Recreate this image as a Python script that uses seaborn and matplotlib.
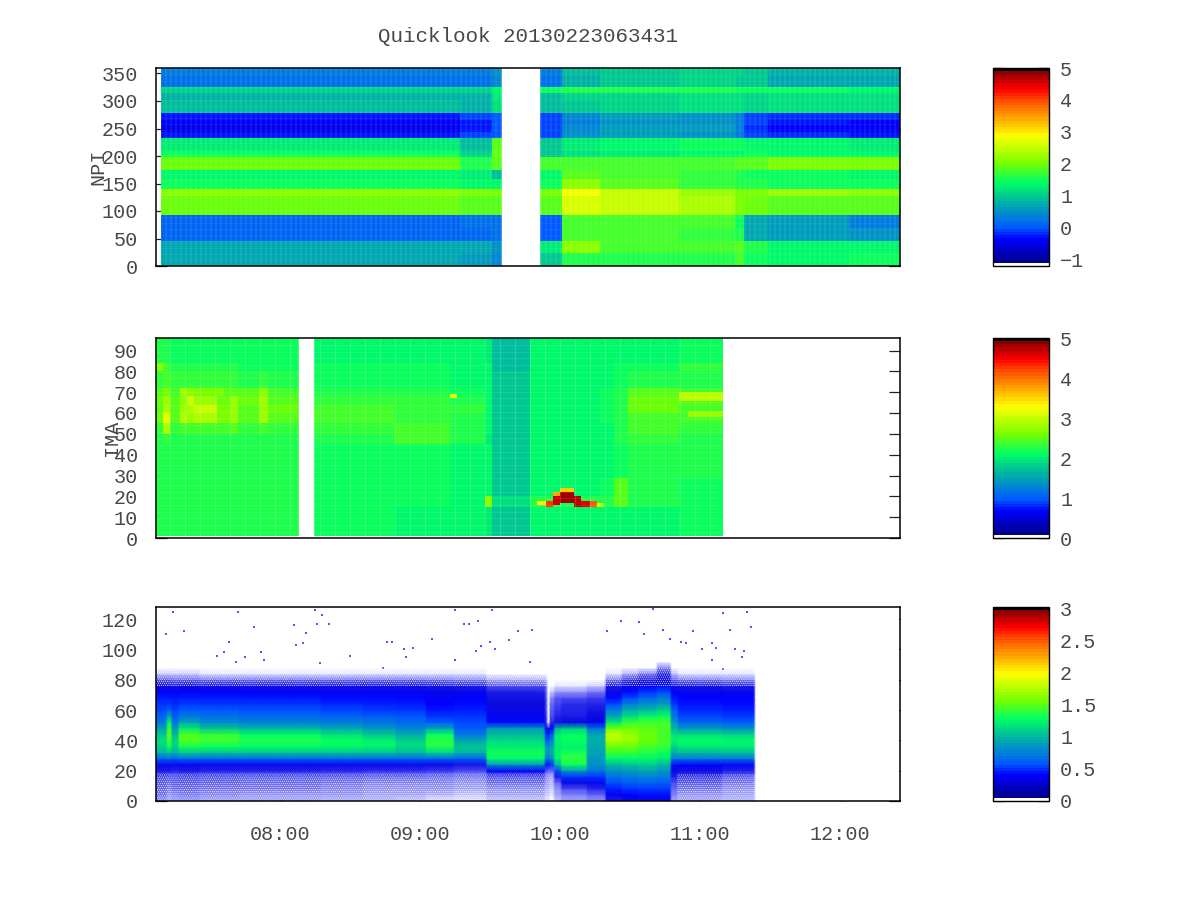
import numpy as np
import pandas as pd
import matplotlib
matplotlib.use("Agg")
import matplotlib.pyplot as plt
from matplotlib.cm import ScalarMappable
from matplotlib.colors import LinearSegmentedColormap, Normalize
from matplotlib.patches import Rectangle
import seaborn as sns

nan = float("nan")

# time axis is minutes of the day
minute_grid = np.arange(427, 746)
hour_ticks = [480, 540, 600, 660, 720]
hour_labels = ["08:00", "09:00", "10:00", "11:00", "12:00"]

# NPI: one column per stretch of time, one value per band (bottom to top)
npi_bands = [0, 23, 46, 69, 92, 128, 139, 157, 174, 197, 209, 231, 243, 255, 266, 278, 302, 314, 325, 348]
npi_starts = [429, 557, 571, 575, 591, 601, 617, 651, 675, 679, 689, 724]
npi_s1 = [0.65, 0.7, 0.1, 0.15, 1.95, 2.15, 1.45, 1.4, 1.95, 1.5, 1.3, -0.3, -0.45, -0.4, -0.25, 0.85, 0.8, 1.1, 0.2, 0.35]
npi_s2 = [0.6, 0.65, 0.15, 0.2, 1.85, 2.05, 1.4, 1.3, 1.6, 1.05, 0.85, -0.1, -0.3, -0.3, -0.1, 0.75, 0.75, 1.05, 0.2, 0.3]
npi_s3 = [0.4, 0.45, 0.2, 0.2, 1.9, 2.0, 1.4, 0.85, 1.9, 1.95, 1.85, 0.0, 0.05, 0.05, 0.0, 1.2, 1.3, 1.35, 0.4, 0.45]
npi_gap = [nan] * 20
npi_s4 = [0.95, 1.25, 0.05, 0.05, 1.85, 2.05, 1.45, 1.35, 1.75, 0.95, 1.0, -0.1, -0.05, -0.05, -0.1, 0.85, 0.9, 1.45, 0.25, 0.3]
npi_s5 = [1.55, 2.1, 1.75, 1.8, 2.65, 2.8, 2.1, 1.9, 1.8, 1.2, 1.3, 0.45, 0.4, 0.35, 0.4, 1.0, 1.05, 1.6, 0.75, 0.85]
npi_s6 = [1.55, 1.75, 1.75, 1.75, 2.5, 2.55, 1.9, 1.75, 1.75, 1.3, 1.4, 0.55, 0.55, 0.5, 0.55, 1.05, 1.1, 1.6, 0.95, 1.0]
npi_s7 = [1.6, 1.75, 1.7, 1.8, 2.3, 2.2, 1.7, 1.65, 1.8, 1.35, 1.45, 0.5, 0.55, 0.5, 0.5, 1.15, 1.15, 1.6, 1.05, 1.05]
npi_s8 = [1.75, 1.9, 1.55, 1.5, 2.05, 2.0, 1.55, 1.55, 1.85, 1.35, 1.45, 0.3, 0.3, 0.3, 0.3, 1.15, 1.2, 1.5, 1.0, 1.05]
npi_s9 = [1.5, 1.55, 0.65, 0.7, 1.95, 2.0, 1.55, 1.45, 1.9, 1.45, 1.35, -0.1, -0.15, -0.1, -0.05, 1.05, 1.1, 1.5, 0.95, 0.95]
npi_s10 = [1.4, 1.4, 0.6, 0.55, 1.9, 2.2, 1.5, 1.45, 2.0, 1.4, 1.4, -0.2, -0.35, -0.3, -0.15, 1.2, 1.2, 1.45, 0.7, 0.8]
npi_s11 = [1.45, 1.4, 0.5, 0.35, 1.9, 2.15, 1.5, 1.4, 2.0, 1.35, 1.3, -0.3, -0.35, -0.35, -0.2, 1.2, 1.15, 1.4, 0.65, 0.75]

# IMA: bands 1..96, columns
ima_bands = [1, 15, 20, 29, 45, 50, 55, 60, 64, 68, 72, 80, 84]
ima_starts = [427, 430, 433, 437, 440, 443, 453, 456, 459, 462, 471, 475, 488, 494, 529, 553, 568, 571, 587, 617, 623, 629, 651, 670]
ima_r1 = [2.2, 2.2, 2.2, 2.2, 2.2, 2.2, 2.2, 2.2, 2.2, 2.2, 2.2, 2.2, nan, 2.15, 2.1, 2.05, 2.0, 1.75, 2.05, 2.1, 2.1, 2.1, 2.15, nan]
ima_r2 = [2.2, 2.2, 2.2, 2.2, 2.2, 2.2, 2.2, 2.2, 2.2, 2.2, 2.2, 2.2, nan, 2.15, 2.15, 2.1, 2.7, 1.95, 2.2, 2.2, 2.5, 2.2, 2.15, nan]
ima_r3 = [2.2, 2.2, 2.2, 2.2, 2.2, 2.2, 2.2, 2.2, 2.2, 2.2, 2.2, 2.2, nan, 2.15, 2.15, 2.1, 2.1, 1.8, 2.1, 2.15, 2.5, 2.2, 2.15, nan]
ima_r4 = [2.2, 2.2, 2.2, 2.2, 2.2, 2.2, 2.2, 2.2, 2.2, 2.2, 2.2, 2.2, nan, 2.15, 2.15, 2.1, 2.05, 1.75, 2.05, 2.1, 2.15, 2.2, 2.2, nan]
ima_r5 = [2.25, 2.3, 2.25, 2.25, 2.25, 2.25, 2.25, 2.25, 2.25, 2.2, 2.25, 2.2, nan, 2.25, 2.38, 2.2, 2.0, 1.75, 2.05, 2.1, 2.2, 2.35, 2.25, nan]
ima_r6 = [2.35, 2.85, 2.3, 2.4, 2.4, 2.4, 2.4, 2.4, 2.45, 2.35, 2.4, 2.35, nan, 2.3, 2.36, 2.25, 2.05, 1.75, 2.05, 2.1, 2.2, 2.38, 2.35, nan]
ima_r7 = [2.55, 3.2, 2.45, 2.9, 2.8, 2.85, 2.6, 2.65, 2.8, 2.5, 2.8, 2.5, nan, 2.4, 2.33, 2.25, 2.1, 1.8, 2.1, 2.15, 2.2, 2.42, 2.4, nan]
ima_r8 = [2.5, 2.85, 2.45, 2.75, 2.85, 3.0, 2.6, 2.6, 2.8, 2.5, 2.8, 2.55, nan, 2.42, 2.35, 2.3, 2.1, 1.8, 2.1, 2.15, 2.2, 2.55, 2.4, nan]
ima_r9 = [2.55, 2.8, 2.45, 2.7, 3.0, 2.75, 2.55, 2.55, 2.75, 2.55, 2.75, 2.5, nan, 2.28, 2.28, 2.25, 2.1, 1.8, 2.1, 2.15, 2.2, 2.55, 2.45, nan]
ima_r10 = [2.45, 2.6, 2.4, 2.8, 2.7, 2.6, 2.6, 2.5, 2.5, 2.45, 2.7, 2.4, nan, 2.25, 2.2, 2.15, 2.05, 1.8, 2.1, 2.15, 2.2, 2.45, 2.4, nan]
ima_r11 = [2.3, 2.4, 2.3, 2.3, 2.3, 2.3, 2.3, 2.3, 2.3, 2.25, 2.3, 2.25, nan, 2.15, 2.15, 2.1, 2.05, 1.75, 2.05, 2.1, 2.15, 2.25, 2.25, nan]
ima_r12 = [2.7, 2.4, 2.25, 2.2, 2.2, 2.2, 2.2, 2.2, 2.2, 2.15, 2.15, 2.15, nan, 2.15, 2.15, 2.1, 2.05, 1.7, 2.05, 2.1, 2.15, 2.15, 2.35, nan]
ima_r13 = [2.2, 2.2, 2.15, 2.15, 2.15, 2.15, 2.15, 2.15, 2.15, 2.15, 2.15, 2.15, nan, 2.1, 2.1, 2.05, 2.0, 1.65, 2.05, 2.1, 2.1, 2.1, 2.15, nan]

# IMA narrow features: the hot arc at 10:00 and the lines before the data ends
ima_spot_start = [590, 594, 597, 597, 600, 600, 606, 609, 613, 616, 553, 651, 655]
ima_spot_end = [594, 597, 600, 600, 606, 606, 609, 613, 616, 619, 556, 670, 670]
ima_spot_low = [16, 15, 16, 20, 17, 22, 15, 15, 15, 15, 67, 66, 58]
ima_spot_high = [18, 18, 20, 22, 22, 24, 20, 18, 18, 17, 69, 70, 61]
ima_spot_value = [3.4, 4.3, 4.65, 3.7, 4.85, 3.6, 4.75, 4.55, 4.1, 3.0, 3.1, 2.95, 2.75]

# ELS: level every 4 units from 0 to 96 for each stretch of time
els_levels = list(range(0, 100, 4))
els_starts = [427, 432, 434, 437, 446, 463, 498, 516, 530, 543, 555, 569, 594, 595, 596, 598, 601, 612, 620, 627, 634, 642, 648, 651, 670, 684]
els_c1 = [0.07, 0.1, 0.1, 0.12, 0.15, 0.22, 0.34, 0.62, 0.98, 1.12, 1.15, 1.05, 0.9, 0.72, 0.62, 0.55, 0.5, 0.45, 0.38, 0.27, 0.14, 0.03, 0, 0, 0]
els_c2 = [0.05, 0.07, 0.08, 0.1, 0.14, 0.22, 0.35, 0.65, 1.05, 1.3, 1.45, 1.5, 1.42, 1.25, 0.9, 0.62, 0.52, 0.45, 0.38, 0.27, 0.14, 0.03, 0, 0, 0]
els_c3 = [0.07, 0.08, 0.1, 0.12, 0.14, 0.2, 0.32, 0.6, 0.98, 1.1, 1.12, 1.0, 0.85, 0.7, 0.6, 0.54, 0.48, 0.44, 0.37, 0.26, 0.12, 0.03, 0, 0, 0]
els_c4 = [0.06, 0.09, 0.1, 0.12, 0.15, 0.22, 0.34, 0.64, 1.08, 1.32, 1.48, 1.46, 1.2, 0.9, 0.72, 0.6, 0.52, 0.46, 0.39, 0.28, 0.13, 0.03, 0, 0, 0]
els_c5 = [0.05, 0.08, 0.09, 0.11, 0.14, 0.2, 0.33, 0.62, 1.06, 1.3, 1.44, 1.4, 1.05, 0.8, 0.68, 0.58, 0.5, 0.45, 0.38, 0.26, 0.11, 0.02, 0, 0, 0]
els_c6 = [0.05, 0.07, 0.09, 0.1, 0.13, 0.19, 0.32, 0.62, 1.06, 1.26, 1.36, 1.26, 0.98, 0.76, 0.64, 0.56, 0.5, 0.44, 0.37, 0.26, 0.11, 0.02, 0, 0, 0]
els_c7 = [0.04, 0.06, 0.08, 0.09, 0.12, 0.18, 0.32, 0.62, 1.06, 1.25, 1.3, 1.16, 0.92, 0.74, 0.62, 0.54, 0.48, 0.42, 0.36, 0.25, 0.11, 0.02, 0, 0, 0]
els_c8 = [0.04, 0.05, 0.07, 0.08, 0.11, 0.17, 0.32, 0.62, 1.05, 1.24, 1.24, 1.06, 0.85, 0.7, 0.6, 0.52, 0.47, 0.42, 0.35, 0.25, 0.11, 0.02, 0, 0, 0]
els_c9 = [0.03, 0.05, 0.06, 0.08, 0.11, 0.17, 0.32, 0.62, 1.0, 1.14, 1.1, 0.94, 0.78, 0.66, 0.57, 0.5, 0.46, 0.41, 0.35, 0.25, 0.11, 0.02, 0, 0, 0]
els_c10 = [0.02, 0.04, 0.06, 0.08, 0.1, 0.16, 0.3, 0.62, 1.12, 1.34, 1.38, 1.3, 0.9, 0.6, 0.5, 0.44, 0.4, 0.36, 0.32, 0.24, 0.1, 0.02, 0, 0, 0]
els_c11 = [0.02, 0.03, 0.05, 0.07, 0.09, 0.14, 0.26, 0.6, 0.98, 1.06, 0.92, 0.72, 0.58, 0.55, 0.5, 0.46, 0.42, 0.38, 0.32, 0.22, 0.09, 0.02, 0, 0, 0]
els_c12 = [0.03, 0.05, 0.07, 0.1, 0.14, 0.4, 0.85, 1.26, 1.32, 1.2, 1.14, 1.0, 0.88, 0.42, 0.34, 0.3, 0.28, 0.26, 0.22, 0.14, 0.05, 0.01, 0, 0, 0]
els_c13 = [0.02, 0.03, 0.04, 0.06, 0.08, 0.14, 0.45, 0.75, 0.88, 0.82, 0.65, 0.5, 0.32, 0.2, 0.18, 0.16, 0.16, 0.15, 0.13, 0.1, 0.04, 0.01, 0, 0, 0]
els_c14 = [0.02, 0.03, 0.04, 0.05, 0.07, 0.1, 0.42, 0.7, 0.85, 0.8, 0.6, 0.45, 0.3, 0, 0, 0, 0, 0, 0, 0, 0, 0, 0, 0, 0]
els_c15 = [0.01, 0.02, 0.03, 0.04, 0.05, 0.1, 0.5, 0.8, 0.95, 0.88, 0.75, 0.6, 0.34, 0.18, 0.14, 0.12, 0.1, 0.08, 0.03, 0.01, 0, 0, 0, 0, 0]
els_c16 = [0.03, 0.05, 0.07, 0.1, 0.22, 0.55, 1.0, 1.22, 1.25, 1.2, 1.25, 1.2, 1.0, 0.26, 0.2, 0.17, 0.15, 0.12, 0.06, 0.02, 0, 0, 0, 0, 0]
els_c17 = [0.05, 0.08, 0.14, 0.3, 0.5, 0.85, 1.3, 1.4, 1.32, 1.22, 1.3, 1.28, 1.08, 0.3, 0.22, 0.2, 0.18, 0.14, 0.07, 0.02, 0, 0, 0, 0, 0]
els_c18 = [0.06, 0.1, 0.18, 0.34, 0.5, 0.7, 0.82, 0.85, 0.9, 0.92, 0.95, 0.92, 0.7, 0.35, 0.28, 0.24, 0.2, 0.16, 0.09, 0.03, 0, 0, 0, 0, 0]
els_c19 = [0.22, 0.35, 0.45, 0.55, 0.68, 0.82, 1.0, 1.25, 1.42, 1.55, 1.75, 1.8, 1.55, 1.2, 0.9, 0.75, 0.55, 0.42, 0.3, 0.22, 0.1, 0.02, 0, 0, 0]
els_c20 = [0.28, 0.4, 0.5, 0.6, 0.72, 0.86, 1.05, 1.26, 1.4, 1.55, 1.68, 1.68, 1.55, 1.4, 1.15, 0.95, 0.75, 0.55, 0.42, 0.3, 0.18, 0.05, 0, 0, 0]
els_c21 = [0.3, 0.42, 0.52, 0.62, 0.75, 0.9, 1.08, 1.25, 1.35, 1.45, 1.55, 1.55, 1.5, 1.45, 1.25, 1.0, 0.82, 0.65, 0.5, 0.38, 0.25, 0.1, 0.01, 0, 0]
els_c22 = [0.32, 0.42, 0.52, 0.6, 0.72, 0.85, 1.0, 1.2, 1.3, 1.42, 1.45, 1.45, 1.45, 1.45, 1.3, 1.1, 0.88, 0.72, 0.55, 0.42, 0.32, 0.22, 0.08, 0, 0]
els_c23 = [0.05, 0.08, 0.1, 0.14, 0.2, 0.3, 0.42, 0.72, 0.95, 1.1, 1.25, 1.15, 1.0, 0.85, 0.72, 0.62, 0.52, 0.44, 0.36, 0.26, 0.14, 0.04, 0, 0, 0]
els_c24 = [0.05, 0.06, 0.09, 0.12, 0.17, 0.25, 0.4, 0.72, 1.0, 1.2, 1.28, 1.15, 0.85, 0.64, 0.54, 0.48, 0.44, 0.4, 0.34, 0.24, 0.1, 0.02, 0, 0, 0]
els_c25 = [0.04, 0.05, 0.06, 0.09, 0.13, 0.2, 0.38, 0.72, 1.02, 1.2, 1.25, 1.12, 0.8, 0.6, 0.52, 0.46, 0.42, 0.38, 0.33, 0.22, 0.09, 0.02, 0, 0, 0]
els_end = [0] * 25

# ELS stray counts above the belt
els_dot_minute = [434, 431, 439, 462, 458, 469, 472, 465, 461, 456, 453, 473, 486, 491, 487, 490, 495, 498, 496, 501, 510, 497, 524, 526, 528, 533, 537, 534, 545, 555, 559, 561, 565, 564, 566, 555, 571, 582, 588, 578, 570, 572, 587, 626, 634, 640, 644, 620, 636, 647, 652, 654, 657, 665, 667, 661, 670, 680, 682, 673, 675, 679, 678, 665, 670]
els_dot_value = [125, 110, 112, 125, 105, 115, 98, 95, 92, 98, 96, 93, 116, 111, 103, 104, 126, 123, 117, 117, 96, 91, 88, 105, 105, 100, 101, 95, 107, 126, 117, 117, 119, 99, 102, 93, 126, 112, 113, 106, 105, 100, 92, 119, 118, 127, 113, 112, 110, 107, 105, 104, 112, 104, 101, 100, 124, 125, 115, 113, 100, 99, 95, 93, 87]

npi_ticks = [0, 50, 100, 150, 200, 250, 300, 350]
ima_ticks = [0, 10, 20, 30, 40, 50, 60, 70, 80, 90]
els_ticks = [0, 20, 40, 60, 80, 100, 120]
npi_bar_ticks = [-1, 0, 1, 2, 3, 4, 5]
ima_bar_ticks = [0, 1, 2, 3, 4, 5]
els_bar_ticks = [0, 0.5, 1, 1.5, 2, 2.5, 3]
els_bar_labels = ["0", "0.5", "1", "1.5", "2", "2.5", "3"]

sns.set_style("white")
plt.rcParams["font.family"] = ["Liberation Mono", "DejaVu Sans Mono"]
TEXT = "#484848"
FS = 14.5

palette = LinearSegmentedColormap.from_list("quicklook", [
    (0.0, (1, 1, 1)), (0.01, (1, 1, 1)), (0.0158, (0, 0, 0.55)), (0.13, (0, 0, 1)),
    (0.19, (0, 0.35, 1)), (0.355, (0, 0.8, 0.55)), (0.42, (0, 1, 0.4)), (0.516, (0.45, 1, 0)),
    (0.66, (1, 1, 0)), (0.75, (1, 0.65, 0)), (0.84, (1, 0.3, 0)), (0.9, (1, 0, 0)),
    (0.984, (0.55, 0, 0)), (0.99, (0, 0, 0)), (1.0, (0, 0, 0))], N=64)

# the sparse fringe of the ELS belt reads as a pale blue
els_palette = LinearSegmentedColormap.from_list("els", [
    (0.0, (1, 1, 1)), (0.01, (0.72, 0.72, 1)), (0.03, (0.42, 0.42, 0.98)), (0.06, (0.15, 0.15, 0.92)),
    (0.09, (0.04, 0.04, 0.88)), (0.13, (0, 0, 1)), (0.19, (0, 0.35, 1)), (0.355, (0, 0.8, 0.55)),
    (0.42, (0, 1, 0.4)), (0.516, (0.45, 1, 0)), (0.66, (1, 1, 0)), (1.0, (1, 0, 0))], N=256)


def box(px_left, px_top, px_right, px_bottom):
    return [px_left / 1200, 1 - px_bottom / 900, (px_right - px_left) / 1200, (px_bottom - px_top) / 900]


def style_panel(ax, name, y_ticks, y_scale, y_top, label_x):
    ax.set_xlim(426.86 - 427, 745.7 - 427)
    ax.set_ylim(0, y_top)
    ax.set_yticks([v / y_scale for v in y_ticks], [str(v) for v in y_ticks])
    ax.tick_params(axis="y", direction="in", left=True, right=True, length=8, width=0.9,
                   color="#222222", labelcolor=TEXT, labelsize=FS, pad=13, rotation=0)
    ax.set_ylabel(name, fontsize=FS, color=TEXT)
    ax.yaxis.set_label_coords(label_x, 0.5)
    for spine in ax.spines.values():
        spine.set_visible(True)
        spine.set_color("black")
        spine.set_linewidth(1.1)


def add_bar(fig, pos, vmin, vmax, ticks, labels=None):
    cax = fig.add_axes(pos)
    bar = fig.colorbar(ScalarMappable(Normalize(vmin, vmax), palette), cax=cax)
    bar.set_ticks(ticks, labels=labels)
    cax.tick_params(direction="in", left=True, right=True, length=8, width=0.9, color="black",
                    labelcolor=TEXT, labelsize=FS, pad=8)
    bar.outline.set_edgecolor("black")
    bar.outline.set_linewidth(1.0)


fig = plt.figure(figsize=(12, 9), dpi=100)
fig.text(528 / 1200, 1 - 37 / 900, "Quicklook 20130223063431", ha="center", va="center",
         fontsize=15, color=TEXT)

# NPI
npi_cols = [npi_s1, npi_s2, npi_s3, npi_gap, npi_s4, npi_s5, npi_s6, npi_s7, npi_s8, npi_s9, npi_s10, npi_s11]
npi = pd.DataFrame(dict(zip(npi_starts, npi_cols)), index=npi_bands)
npi = npi.reindex(columns=minute_grid, method="ffill").reindex(index=np.arange(0, 360, 2), method="ffill")
ax1 = fig.add_axes(box(156, 68, 900, 266))
sns.heatmap(npi, ax=ax1, cmap=palette, vmin=-1.2, vmax=5, cbar=False, xticklabels=False, yticklabels=False)
style_panel(ax1, "NPI", npi_ticks, 2, 180, -0.066)
ax1.set_xticks([])
# scan seams of the original
ax1.vlines(np.arange(2.1, 319, 2.14), 0, 180, color="white", alpha=0.09, lw=1.1)
ax1.hlines(np.arange(5.6, 180, 5.6), 2, 319, color="white", alpha=0.05, lw=0.8)
ax1.add_patch(Rectangle((148, 0), 16, 180, color="white", zorder=1.5))
add_bar(fig, box(993, 68, 1049, 266), -1.2, 5, npi_bar_ticks)

# IMA
ima_rows = [ima_r1, ima_r2, ima_r3, ima_r4, ima_r5, ima_r6, ima_r7, ima_r8, ima_r9, ima_r10, ima_r11, ima_r12, ima_r13]
ima = pd.DataFrame(ima_rows, index=ima_bands, columns=ima_starts)
ima = ima.reindex(columns=minute_grid, method="ffill").reindex(index=np.arange(0, 96), method="ffill")
for start, end, low, high, value in zip(ima_spot_start, ima_spot_end, ima_spot_low, ima_spot_high, ima_spot_value):
    ima.loc[low:high - 1, start:end - 1] = value
ax2 = fig.add_axes(box(156, 338, 900, 538))
sns.heatmap(ima, ax=ax2, cmap=palette, vmin=0, vmax=5.02, cbar=False, xticklabels=False, yticklabels=False)
style_panel(ax2, "IMA", ima_ticks, 1, 96, -0.047)
ax2.set_xticks([])
ax2.vlines(np.arange(6, 243, 6.43), 1, 96, color="white", alpha=0.16, lw=0.8)
ax2.hlines(np.arange(3, 96, 3.2), 0, 243, color="white", alpha=0.1, lw=0.8)
ax2.add_patch(Rectangle((61, 0), 6, 96, color="white", zorder=1.5))
add_bar(fig, box(993, 338, 1049, 538), 0, 5.02, ima_bar_ticks)

# ELS, smooth shading stands in for the very fine original pixels
els_cols = [els_c1, els_c2, els_c3, els_c4, els_c5, els_c6, els_c7, els_c8, els_c9, els_c10, els_c11, els_c12,
            els_c13, els_c14, els_c15, els_c16, els_c17, els_c18, els_c19, els_c20, els_c21, els_c22, els_c23,
            els_c24, els_c25, els_end]
els = pd.DataFrame(dict(zip(els_starts, els_cols)), index=els_levels)
els = els.reindex(columns=minute_grid, method="ffill").fillna(0)
els = els.reindex(index=np.arange(0, 132, 4), fill_value=0)
ax3 = fig.add_axes(box(156, 607, 900, 801))
sns.heatmap(els, ax=ax3, cmap=els_palette, vmin=0, vmax=3.03, cbar=False, xticklabels=False, yticklabels=False,
            shading="gouraud")
sns.scatterplot(x=[m - 427 for m in els_dot_minute], y=[v / 4 for v in els_dot_value], ax=ax3, s=2, marker="s",
                color="#5555ff", linewidth=0)
# stipple over the thin edges of the belt, these are single counts in the original
plt.rcParams["hatch.linewidth"] = 0.4
for left, width, low, high in [(0, 170, 0, 4.6), (223, 34, 0, 4.4), (0, 257, 19, 22)]:
    ax3.add_patch(Rectangle((left, low), width, high - low, facecolor="none", edgecolor="white", hatch="........",
                            linewidth=0, zorder=1.5))
style_panel(ax3, "ELS", els_ticks, 4, 32, -0.066)
ax3.set_xticks([m - 427 for m in hour_ticks], hour_labels)
ax3.tick_params(axis="x", direction="in", bottom=True, top=True, length=8, width=0.9, color="#222222",
                labelcolor=TEXT, labelsize=FS, pad=17, rotation=0)
add_bar(fig, box(993, 607, 1049, 801), 0, 3.03, els_bar_ticks, els_bar_labels)

fig.savefig("out.png", dpi=100)
